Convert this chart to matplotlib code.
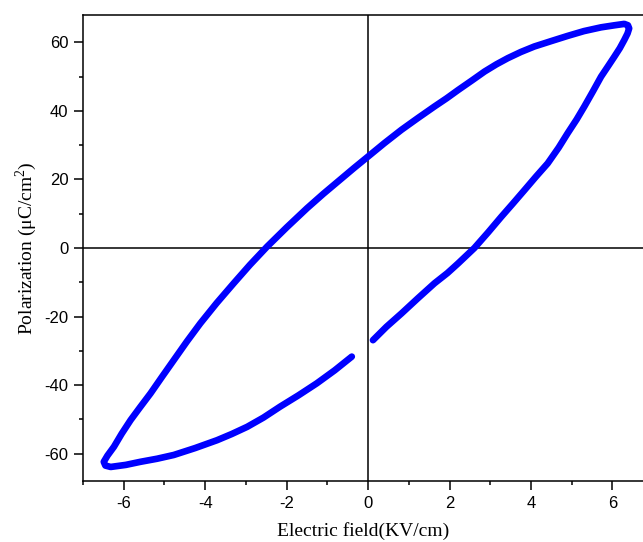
import matplotlib
matplotlib.use("Agg")
import matplotlib.pyplot as plt
from matplotlib.ticker import MultipleLocator

plt.rcParams["axes.unicode_minus"] = False

# Hysteresis loop, in drawing order
field = [0.12, 0.45, 0.82, 1.22, 1.63, 1.95, 2.21, 2.61, 2.95, 3.27, 3.55, 3.84,
         4.12, 4.41, 4.68, 4.90, 5.12, 5.31, 5.52, 5.72, 5.90, 6.05, 6.18, 6.29,
         6.37, 6.41, 6.38, 6.29, 6.05, 5.72, 5.30, 4.90, 4.50, 4.08, 3.75, 3.43,
         3.15, 2.86, 2.55, 2.21, 1.93, 1.63, 1.22, 0.82, 0.40, 0.0, -0.35, -0.69,
         -1.10, -1.50, -2.00, -2.48, -2.90, -3.30, -3.72, -4.12, -4.45, -4.77,
         -5.06, -5.34, -5.60, -5.83, -6.05, -6.24, -6.40, -6.49, -6.45, -6.32,
         -5.95, -5.59, -5.18, -4.77, -4.25, -3.71, -3.35, -2.97, -2.57, -2.16,
         -1.71, -1.26, -0.82, -0.40]
polar = [-26.9, -23.0, -19.1, -14.7, -10.3, -7.3, -4.5, 0.0, 4.6, 9.1, 12.9, 16.9,
         20.8, 24.7, 29.3, 33.5, 37.5, 41.3, 45.7, 50.0, 53.2, 55.9, 58.3, 60.7,
         62.6, 64.1, 65.0, 65.4, 65.0, 64.4, 63.3, 61.9, 60.4, 58.8, 57.2, 55.4,
         53.6, 51.5, 48.9, 46.1, 43.7, 41.3, 37.9, 34.5, 30.6, 26.7, 23.3, 19.9,
         15.8, 11.6, 6.0, 0.4, -4.9, -10.3, -16.1, -22.0, -27.3, -32.7,
         -37.6, -42.4, -46.5, -50.2, -54.2, -58.0, -60.6, -62.4, -63.5, -63.9,
         -63.3, -62.4, -61.5, -60.4, -58.4, -56.1, -54.3, -52.2, -49.5, -46.3,
         -43.0, -39.5, -35.7, -31.7]

x_major = [-6, -4, -2, 0, 2, 4, 6]
y_major = [-60, -40, -20, 0, 20, 40, 60]

fig = plt.figure(figsize=(6.43, 5.42), dpi=100)
ax = fig.add_axes([83 / 643, 61 / 542, 560 / 643, 466 / 542])

ax.plot(field, polar, color="#0000ff", linewidth=4.8,
        solid_capstyle="round", solid_joinstyle="round", zorder=3)

# crosshair through the origin
ax.axhline(0, color="black", linewidth=1.1, zorder=2)
ax.axvline(0, color="black", linewidth=1.1, zorder=2)

ax.set_xlim(-7, 6.75)
ax.set_ylim(-68, 68)
ax.set_xticks(x_major)
ax.set_yticks(y_major)
ax.xaxis.set_minor_locator(MultipleLocator(1))
ax.yaxis.set_minor_locator(MultipleLocator(10))
ax.tick_params(which="major", direction="out", length=6.5, width=1.1,
               labelsize=12, pad=4)
ax.tick_params(which="minor", direction="out", length=3, width=1.1)
for lab in ax.get_xticklabels() + ax.get_yticklabels():
    lab.set_fontfamily("Liberation Sans")

for side in ("left", "bottom", "top"):
    ax.spines[side].set_linewidth(1.1)
ax.spines["right"].set_visible(False)

ax.set_xlabel("Electric field(KV/cm)", family="Liberation Serif", fontsize=14, labelpad=8)
ax.set_ylabel(r"Polarization ($\mathregular{\mu}$C/cm$^\mathregular{2}$)",
              family="Liberation Serif", fontsize=14, labelpad=4)

fig.savefig("out.png", dpi=100)
